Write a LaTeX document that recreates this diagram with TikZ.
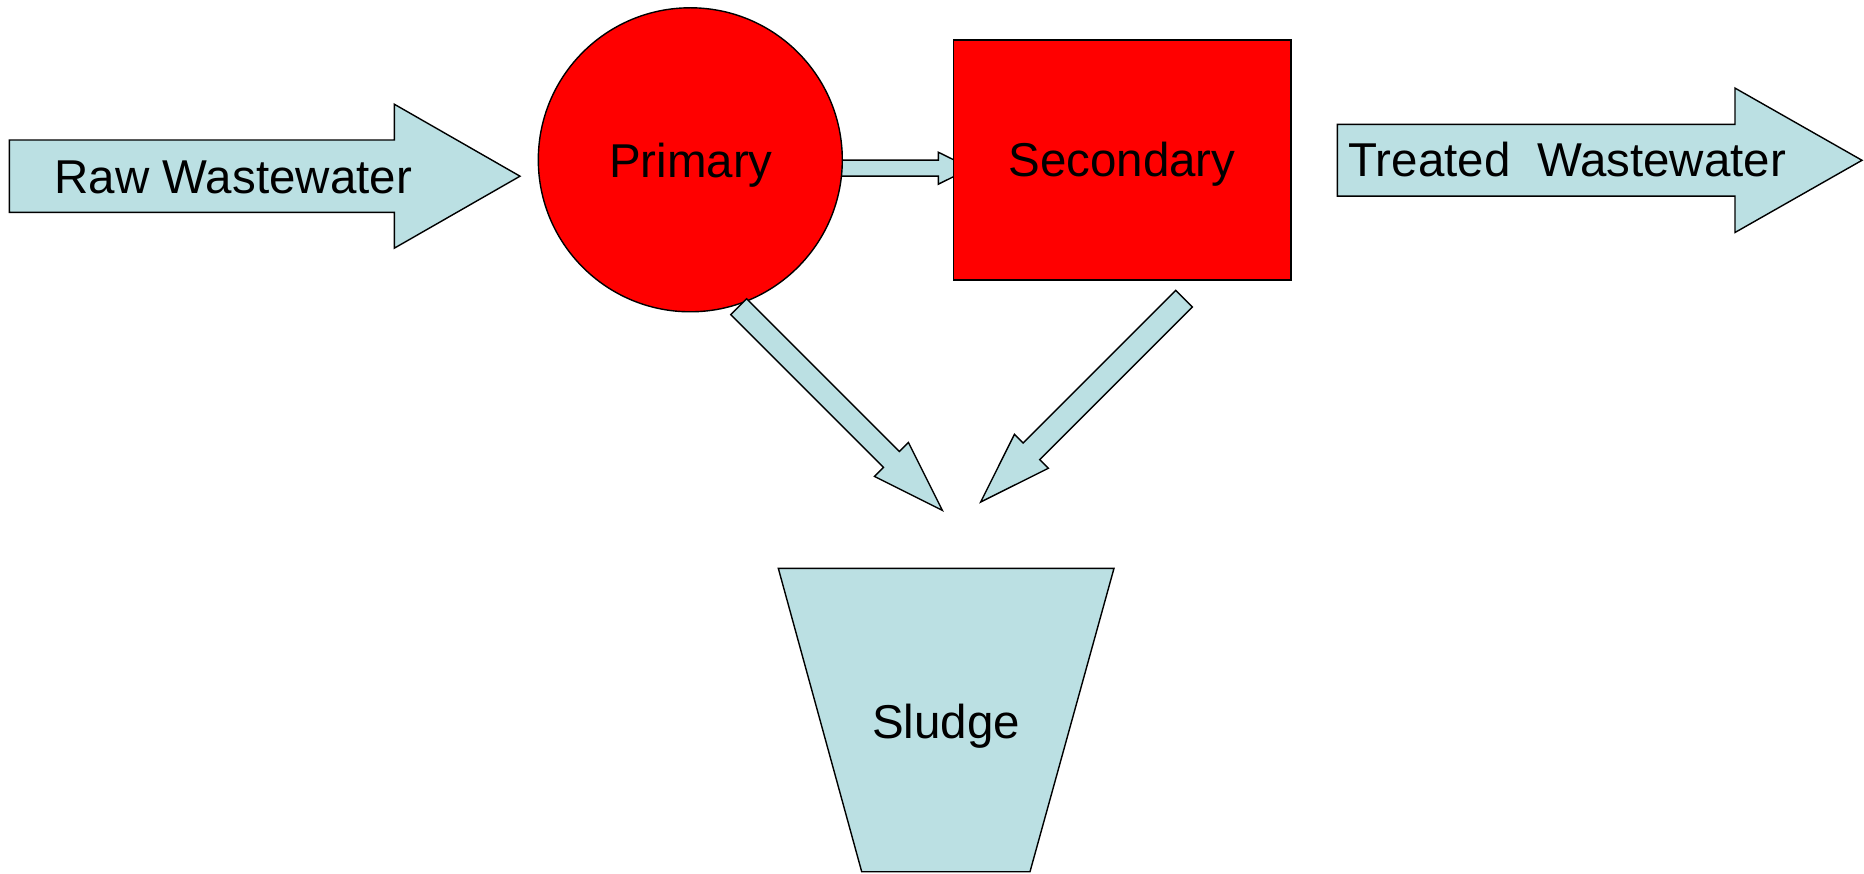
\documentclass[tikz,border=0pt]{standalone}
\usepackage{fontspec}
\setmainfont{Liberation Sans}
\definecolor{lblue}{RGB}{187,224,227}
\tikzset{
  blk/.style={fill=lblue, draw=black, line width=1.4pt, line join=miter},
  redshape/.style={fill=red, draw=black, line width=1.4pt},
  lbl/.style={font=\fontsize{47.5}{57}\selectfont, inner sep=0pt, text=black},
  pics/barrow/.style args={#1/#2/#3/#4}{code={%
    \draw[blk] (0,{#2/2}) -- ({#1-#4},{#2/2}) -- ({#1-#4},{#3/2}) -- (#1,0)
      -- ({#1-#4},{-#3/2}) -- ({#1-#4},{-#2/2}) -- (0,{-#2/2}) -- cycle;
  }}
}
\begin{document}
\begin{tikzpicture}[x=1pt,y=-1pt]
\useasboundingbox (0,0) rectangle (1864,874);
% named tails of the connectors
\coordinate (rawtail) at (9.3,176.2);
\coordinate (midtail) at (830,168.2);
\coordinate (treattail) at (1337.3,160.3);
\coordinate (ptail) at (738.7,306.7);
\coordinate (stail) at (1184,298.7);
% arrow from primary to secondary (below the circle)
\pic at (midtail) {barrow=140.7/16/32/32.4};
% process units
\node[redshape, circle, minimum size=304pt, inner sep=0pt] (primary) at (690.3,159.8) {};
\node[redshape, rectangle, minimum width=337.7pt, minimum height=240pt, inner sep=0pt, line width=1.7pt] (secondary) at (1122.2,160) {};
% raw and treated wastewater arrows
\pic at (rawtail) {barrow=510.7/72.3/144/125.7};
\pic at (treattail) {barrow=524.7/71.7/144.4/127};
% sludge arrows
\pic[rotate=-45] at (ptail) {barrow=288/22.5/48/72};
\pic[rotate=-135] at (stail) {barrow=287.5/23.5/48/71.7};
% sludge hopper
\draw[blk] (778.3,568.3) coordinate (sludgetl) -- (1114,568.3) coordinate (sludgetr)
  -- (1030,871.7) coordinate (sludgebr) -- (861.7,871.7) coordinate (sludgebl) -- cycle;
% labels
\node[lbl, anchor=base west] (rawtxt) at (54.5,193.5) {Raw Wastewater};
\node[lbl, anchor=base west] (treattxt) at (1348.5,177) {Treated~~Wastewater};
\node[lbl, anchor=base] (primtxt) at (690.8,177.7) {Primary};
\node[lbl, anchor=base] (sectxt) at (1122,176.7) {Secondary};
\node[lbl, anchor=base] (sludge) at (946,738.3) {Sludge};
\end{tikzpicture}
\end{document}
